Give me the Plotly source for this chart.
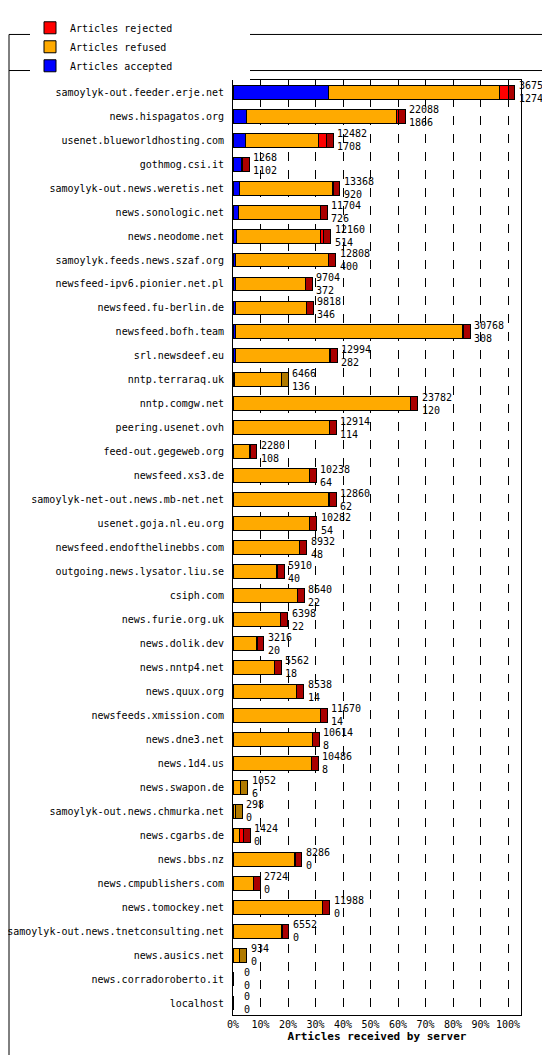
import plotly.graph_objects as go

servers = ["samoylyk-out.feeder.erje.net","news.hispagatos.org","usenet.blueworldhosting.com","gothmog.csi.it",
"samoylyk-out.news.weretis.net","news.sonologic.net","news.neodome.net","samoylyk.feeds.news.szaf.org",
"newsfeed-ipv6.pionier.net.pl","newsfeed.fu-berlin.de","newsfeed.bofh.team","srl.newsdeef.eu","nntp.terraraq.uk",
"nntp.comgw.net","peering.usenet.ovh","feed-out.gegeweb.org","newsfeed.xs3.de","samoylyk-net-out.news.mb-net.net",
"usenet.goja.nl.eu.org","newsfeed.endofthelinebbs.com","outgoing.news.lysator.liu.se","csiph.com","news.furie.org.uk",
"news.dolik.dev","news.nntp4.net","news.quux.org","newsfeeds.xmission.com","news.dne3.net","news.1d4.us",
"news.swapon.de","samoylyk-out.news.chmurka.net","news.cgarbs.de","news.bbs.nz","news.cmpublishers.com",
"news.tomockey.net","samoylyk-out.news.tnetconsulting.net","news.ausics.net","news.corradoroberto.it","localhost"]
totals = [36750,22088,12482,1268,13368,11704,12160,12808,9704,9818,30768,12994,6466,23782,12914,2280,10238,12860,
10282,8932,5910,8640,6398,3216,5562,8538,11670,10614,10486,1052,298,1424,8286,2724,11988,6552,934,0,0]
accepted = [12748,1866,1708,1102,920,726,514,400,372,346,308,282,136,120,114,108,64,62,54,48,40,22,22,20,18,14,14,8,8,6,0,0,0,0,0,0,0,0,0]
rejected = [1100,250,1000,166,40,40,500,40,40,40,40,40,0,40,40,40,40,40,40,40,40,40,40,40,40,40,40,40,40,0,0,500,40,40,40,40,0,0,0]

mx = max(totals)
pct = lambda v: v / mx * 100
acc_p = [pct(a) for a in accepted]
rej_p = [pct(r) for r in rejected]
ref_p = [pct(t - a - r) for t, a, r in zip(totals, accepted, rejected)]
tot_p = [pct(t) for t in totals]
side_col = ["#aa0000" if r > 0 else "#b07a00" for r in rejected]
side_col = [c if t > 0 else "rgba(0,0,0,0)" for c, t in zip(side_col, totals)]

fig = go.Figure()
line = dict(color="black", width=1)
fig.add_bar(y=servers, x=acc_p, name="Articles accepted", orientation="h", marker=dict(color="#0000ff", line=line))
fig.add_bar(y=servers, x=ref_p, name="Articles refused", orientation="h", marker=dict(color="#ffaa00", line=line))
fig.add_bar(y=servers, x=rej_p, name="Articles rejected", orientation="h", marker=dict(color="#ff0000", line=line))
fig.add_bar(y=servers, x=[2.5 if t > 0 else 0 for t in totals], orientation="h", showlegend=False,
            marker=dict(color=side_col, line=dict(color="black", width=1)), hoverinfo="skip")

for s, t, a, tp in zip(servers, totals, accepted, tot_p):
    fig.add_annotation(x=tp + 3.2, y=s, text=f"{t}<br>{a}", showarrow=False, xanchor="left",
                       font=dict(size=10, family="DejaVu Sans Mono", color="black"), align="left",
                       bgcolor="rgba(0,0,0,0)")

W = 550 - 225 - 37
H = 1055 - 48 - 48
fig.update_layout(
    width=550, height=1055, barmode="stack", bargap=0.42,
    margin=dict(l=225, r=37, t=48, b=48),
    plot_bgcolor="white", paper_bgcolor="white",
    font=dict(family="DejaVu Sans Mono", size=10, color="black"),
    legend=dict(orientation="h", x=0.04, xanchor="left", y=0.995, yanchor="top", yref="container",
                xref="container", font=dict(size=10), itemwidth=30, entrywidth=175),
    xaxis=dict(range=[0, 100 * W / 275], tickvals=[0,10,20,30,40,50,60,70,80,90,100],
               ticktext=[f"{v}%" for v in range(0,101,10)], showgrid=True, gridcolor="black",
               griddash="dash", gridwidth=1, showline=True, linecolor="black", mirror=True,
               title=dict(text="<b>Articles received by server</b>", standoff=2, font=dict(size=11)),
               zeroline=False, automargin=False),
    yaxis=dict(showline=True, linecolor="black", mirror=True, ticks="", ticksuffix=" ",
               tickfont=dict(size=10), range=[len(servers) - 0.5, -0.5], automargin=False),
)
fig.add_shape(type="rect", xref="paper", yref="paper", x0=-224/W, x1=1+36/W, y0=-46/H, y1=1+47/H,
              line=dict(color="black", width=1))
fig.add_shape(type="line", xref="paper", yref="paper", x0=-224/W, x1=1+36/W, y0=1+10/H, y1=1+10/H,
              line=dict(color="black", width=1))
fig.write_html("out.html")
